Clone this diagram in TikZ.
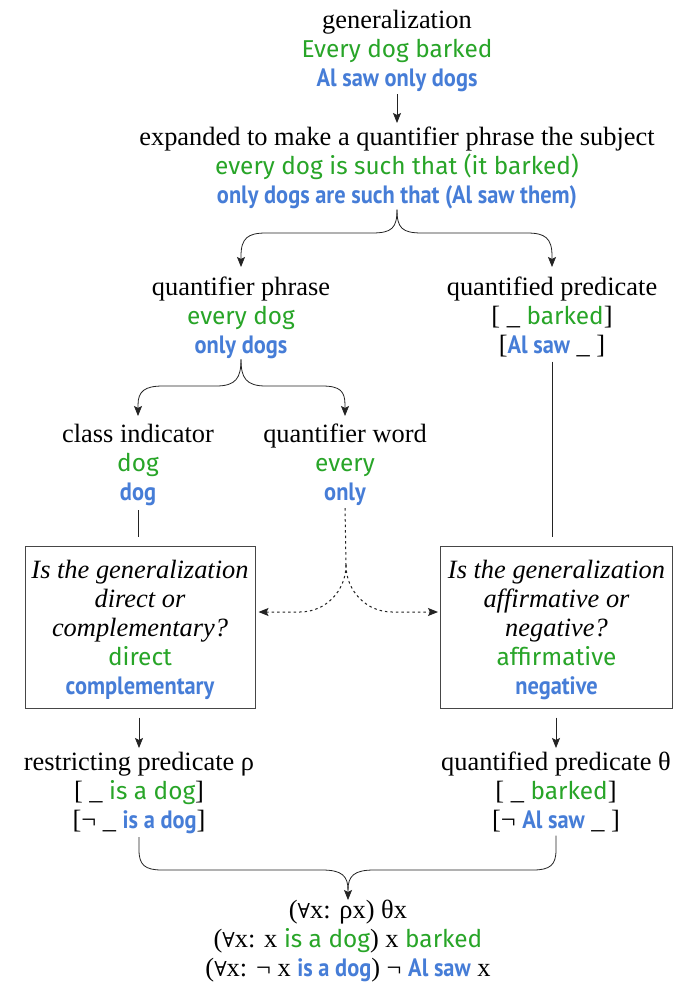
\documentclass[tikz,border=0pt]{standalone}
\usepackage{fontspec}
\usepackage{graphicx}
\setmainfont{Liberation Serif}[Scale=1.32]
\newfontfamily\grfont{Fira Sans}[Scale=1.22]
\newfontfamily\blfont{PT Sans}[Scale=1.12]
\newfontfamily\symfont{DejaVu Serif}[Scale=1.03]
\usetikzlibrary{arrows.meta,calc}
\definecolor{gr}{RGB}{40,165,40}
\definecolor{bl}{RGB}{70,125,215}
\definecolor{ink}{RGB}{35,35,35}
\definecolor{boxc}{RGB}{70,70,70}
\newcommand\grtxt[1]{{\grfont\upshape\color{gr}#1}}
\newcommand\bltxt[1]{{\blfont\bfseries\upshape\color{bl}\scalebox{1}[1.12]{#1}}}
\newcommand\fall{{\symfont ∀}}
\tikzset{
  blk/.style={align=center, inner sep=0pt, anchor=north, font=\fontsize{20}{29}\selectfont},
  qbox/.style={draw=boxc, line width=1pt, minimum height=162pt, inner sep=0pt},
  qtext/.style={align=center, inner sep=0pt, font=\fontsize{20}{29}\selectfont\itshape},
  ln/.style={line width=0.8pt, draw=ink},
  arr/.style={ln, -{Stealth[length=10pt,width=8pt,inset=2pt]}},
  dotl/.style={line width=1pt, dash pattern=on 2.5pt off 3pt}
}
\begin{document}
\begin{tikzpicture}[x=1pt,y=-1pt]
\useasboundingbox (0,0) rectangle (677,982);
\fill[white] (0,0) rectangle (677,982);

\node[blk] (gen) at (397,10) {generalization\\ \grtxt{Every dog barked}\\ \bltxt{Al saw only dogs}};
\node[blk] (exp) at (397,127) {expanded to make a quantifier phrase the subject\\ \grtxt{every dog is such that (it barked)}\\ \bltxt{only dogs are such that (Al saw them)}};
\node[blk] (qp) at (241,277) {quantifier phrase\\ \grtxt{every dog}\\ \bltxt{only dogs}};
\node[blk] (qpr) at (552,277) {quantified predicate\\ {[} \_ \grtxt{barked}]\\ {[}\bltxt{Al saw} \_ ]};
\node[blk] (ci) at (138,424) {class indicator\\ \grtxt{dog}\\ \bltxt{dog}};
\node[blk] (qw) at (345,424) {quantifier word\\ \grtxt{every}\\ \bltxt{only}};
\node[qbox, minimum width=230pt] (boxL) at (140,627) {};
\node[qtext] (boxLt) at (140,630) {Is the generalization\\ direct or\\ complementary?\\ \grtxt{direct}\\ \bltxt{complementary}};
\node[qbox, minimum width=232pt] (boxR) at (556.5,627) {};
\node[qtext] (boxRt) at (556.5,630) {Is the generalization\\ affirmative or\\ negative?\\ \grtxt{affirmative}\\ \bltxt{negative}};
\node[blk] (rp) at (139,752) {restricting predicate ρ\\ {[} \_ \grtxt{is a dog}]\\ {[}¬ \_ \bltxt{is a dog}]};
\node[blk] (qt) at (556,752) {quantified predicate θ\\ {[} \_ \grtxt{barked}]\\ {[}¬ \bltxt{Al saw} \_ ]};
\node[blk] (fin) at (348,900) {(\fall x: ρx) θx\\ (\fall x: x \grtxt{is a dog}) x \grtxt{barked}\\ (\fall x: ¬ x \bltxt{is a dog}) ¬ \bltxt{Al saw} x};

\coordinate (dj) at (346,565);

\draw[arr, shorten <=2pt, shorten >=4pt] (gen.south) -- (exp.north);
% top brace
\draw[arr, shorten >=10pt] (exp.south) .. controls (397,228) and (392,233) .. (372,233) -- (266,233) .. controls (248,233) and (241,238) .. (241,256) -- (qp.north);
\draw[arr, shorten >=10pt] (exp.south) .. controls (397,228) and (402,233) .. (422,233) -- (527,233) .. controls (545,233) and (552,238) .. (552,256) -- (qpr.north);
% second brace
\draw[arr, shorten >=8pt] (qp.south) .. controls (241,378) and (236,386) .. (216,386) -- (163,386) .. controls (145,386) and (138,391) .. (138,405) -- (ci.north);
\draw[arr, shorten >=8pt] (qp.south) .. controls (241,378) and (246,386) .. (266,386) -- (322,386) .. controls (340,386) and (345,391) .. (345,405) -- (qw.north);
% plain lines
\draw[ln, shorten <=4pt, shorten >=9pt] (ci.south) -- (ci.south |- boxL.north);
\draw[ln, shorten <=4pt, shorten >=9pt] (qpr.south) -- (qpr.south |- boxR.north);
% dotted
\draw[ln, dotl, shorten <=2pt] (qw.south) -- (dj);
\draw[arr, dotl, shorten >=3pt] (dj) to[out=-90,in=0] (300,612) -- (boxL.east |- 0,612);
\draw[arr, dotl, shorten >=2pt] (dj) to[out=-90,in=180] (392,612) -- (boxR.west |- 0,612);
% box outputs
\draw[arr, shorten <=9pt, shorten >=4pt] (rp.north |- boxL.south) -- (rp.north);
\draw[arr, shorten <=9pt, shorten >=4pt] (qt.north |- boxR.south) -- (qt.north);
% bottom brace
\draw[ln, shorten <=3pt] (rp.south) -- (139,850) .. controls (139,865) and (145,870) .. (162,870) -- (322,870) .. controls (342,870) and (348,876) .. (348,890);
\draw[arr, shorten <=3pt] (qt.south) -- (556,850) .. controls (556,865) and (550,870) .. (533,870) -- (374,870) .. controls (354,870) and (348,876) .. (348,890) -- (fin.north);
\end{tikzpicture}
\end{document}
